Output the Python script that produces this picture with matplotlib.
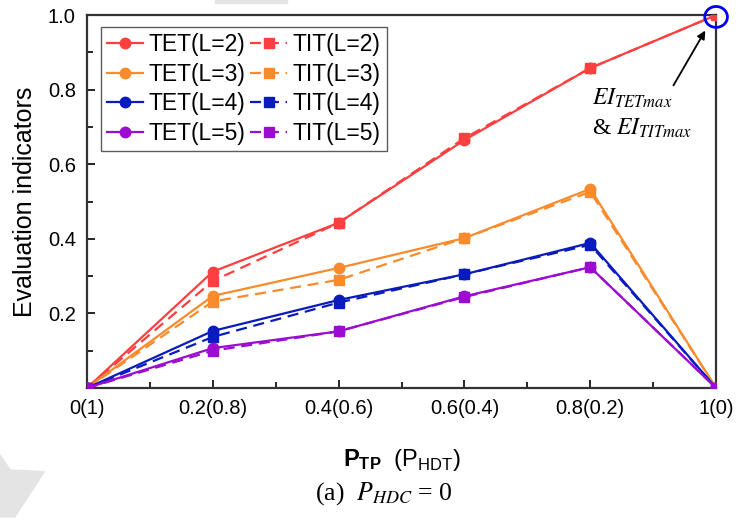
import matplotlib
matplotlib.use("Agg")
import matplotlib.pyplot as plt
from matplotlib.ticker import MultipleLocator
from matplotlib.patches import Ellipse, Polygon

plt.rcParams['font.family'] = ['Liberation Sans', 'DejaVu Sans']
plt.rcParams['mathtext.fontset'] = 'custom'
plt.rcParams['mathtext.rm'] = 'Liberation Sans'
plt.rcParams['mathtext.bf'] = 'Liberation Sans:bold'

x = [0, 0.2, 0.4, 0.6, 0.8, 1.0]
xlabels = ['0(1)', '0.2(0.8)', '0.4(0.6)', '0.6(0.4)', '0.8(0.2)', '1(0)']

tet_l2 = [0, 0.312, 0.443, 0.665, 0.858, 1.0]
tit_l2 = [0, 0.287, 0.443, 0.670, 0.858, 1.0]
tet_l3 = [0, 0.247, 0.322, 0.402, 0.534, 0]
tit_l3 = [0, 0.232, 0.290, 0.402, 0.526, 0]
tet_l4 = [0, 0.153, 0.236, 0.305, 0.389, 0]
tit_l4 = [0, 0.137, 0.229, 0.305, 0.384, 0]
tet_l5 = [0, 0.107, 0.152, 0.246, 0.324, 0]
tit_l5 = [0, 0.100, 0.152, 0.244, 0.324, 0]

colors = ['#fe3f3f', '#f98b2c', '#0a1bbd', '#9b0bd0']
levels = [2, 3, 4, 5]
tets = [tet_l2, tet_l3, tet_l4, tet_l5]
tits = [tit_l2, tit_l3, tit_l4, tit_l5]

fig = plt.figure(figsize=(7.39, 5.2), dpi=100)

# faint watermark bits of the source page
fig.patches.append(Polygon([(0, 0.125), (0.014, 0.096), (0.06, 0.093),
                            (0.02, 0.006), (0, 0.006)], closed=True,
                           transform=fig.transFigure, color='#e4e4e4', zorder=0))
fig.patches.append(Polygon([(0.291, 1.0), (0.389, 1.0), (0.389, 0.994),
                            (0.291, 0.994)], closed=True,
                           transform=fig.transFigure, color='#e4e4e4', zorder=0))

ax = fig.add_axes([0.1177, 0.2538, 0.8513, 0.7172])

tet_handles = []
tit_handles = []
for L, c, yt, yi in zip(levels, colors, tets, tits):
    h1, = ax.plot(x, yt, '-', color=c, marker='o', markersize=7.5, lw=1.6,
                  label='TET(L=%d)' % L, zorder=3)
    h2, = ax.plot(x, yi, '--', color=c, marker='s', markersize=7, lw=1.6,
                  dashes=(5, 3), label='TIT(L=%d)' % L, zorder=3)
    tet_handles.append(h1)
    tit_handles.append(h2)

ax.set_xlim(0, 1)
ax.set_ylim(0, 1)
ax.set_xticks(x)
ax.set_xticklabels(xlabels)
ax.set_yticks([0.2, 0.4, 0.6, 0.8, 1.0])
ax.xaxis.set_minor_locator(MultipleLocator(0.1))
ax.yaxis.set_minor_locator(MultipleLocator(0.1))
ax.tick_params(which='both', direction='in', labelsize=14.5, width=1.2)
ax.tick_params(which='major', length=6, pad=8)
ax.tick_params(which='minor', length=4)
for s in ax.spines.values():
    s.set_linewidth(1.6)
    s.set_color('#333333')

ax.set_ylabel('Evaluation indicators', fontsize=18, labelpad=8)
ax.set_xlabel(r'$\mathbf{P_{TP}}$  (P$_{\mathrm{HDT}}$)', fontsize=17, labelpad=21)

leg = ax.legend(handles=tet_handles + tit_handles, ncol=2, loc='upper left',
                bbox_to_anchor=(0.022, 0.968), fontsize=16.5, frameon=True,
                fancybox=False, edgecolor='#333333', handlelength=1.6,
                handletextpad=0.25, columnspacing=0.2, labelspacing=0.3,
                borderpad=0.25, borderaxespad=0)
leg.get_frame().set_linewidth(1.0)

circ = Ellipse((1.0, 0.995), 0.036, 0.056, fill=False, edgecolor='#0000ee',
               lw=2, clip_on=False, transform=ax.transData, zorder=5)
ax.add_patch(circ)
ax.annotate('', xy=(0.985, 0.965), xytext=(0.93, 0.805),
            arrowprops=dict(arrowstyle='-|>', color='black', lw=1.3,
                            mutation_scale=12))
ax.text(0.802, 0.759, r'$EI_{TETmax}$', fontsize=17, math_fontfamily='stix')
ax.text(0.802, 0.678, r'& $EI_{TITmax}$', fontsize=17, family='Liberation Serif',
        math_fontfamily='stix')

fig.text(0.52, 0.04, r'(a)  $P_{HDC}$ = 0', fontsize=18.5, ha='center',
         family='Liberation Serif', math_fontfamily='stix')

fig.savefig('out.png', dpi=100)
